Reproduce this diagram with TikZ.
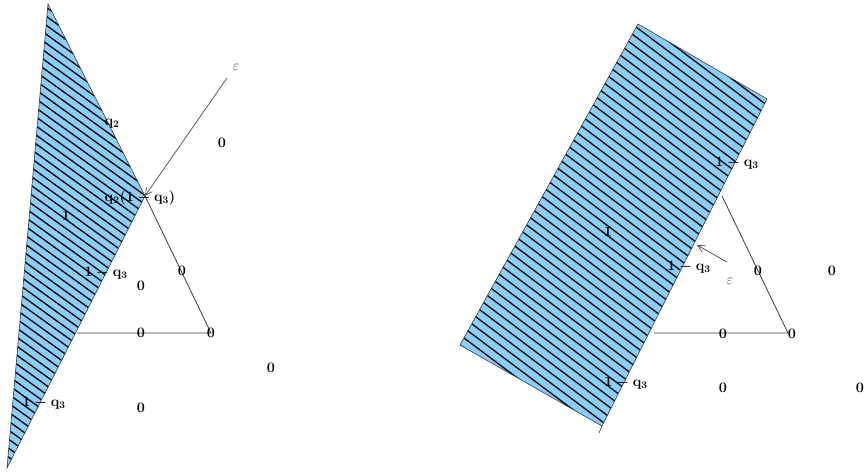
\documentclass[tikz,border=0pt]{standalone}
\usetikzlibrary{arrows.meta}
\definecolor{hatchblue}{RGB}{140,206,250}
\definecolor{edgegray}{RGB}{60,60,60}
\definecolor{epsgray}{RGB}{75,75,75}
\tikzset{
  lab/.style={font=\fontsize{14}{16}\selectfont\boldmath, inner sep=0pt},
  epslab/.style={font=\fontsize{14}{16}\selectfont, text=epsgray, inner sep=0pt},
  edge/.style={draw=edgegray, line width=0.6pt},
  tri/.style={draw=edgegray, line width=0.8pt},
  epsarrow/.style={draw=epsgray, line width=0.7pt, -{Straight Barb[length=7pt,width=7pt]}},
  hatch/.style={line width=1.3pt, black}
}
\begin{document}
\begin{tikzpicture}[x=1pt,y=-1pt]
\useasboundingbox (0,0) rectangle (864,473);

% ---------- left figure ----------
\coordinate (LA) at (48,4);
\coordinate (LV) at (145,196);
\coordinate (LT) at (7,468);
\coordinate (LB) at (211,333);
\coordinate (LC) at (77,333);

\draw[tri] (LV) -- (LB) -- (LC);

\fill[hatchblue] (LA) -- (LV) -- (LT) -- cycle;
\begin{scope}
  \clip (LA) -- (LV) -- (LT) -- cycle;
  \foreach \y in {-800,-791,...,1000}
    \draw[hatch] (-400,\y) -- ++(1000,720);
\end{scope}
\draw[edge] (LA) -- (LV) -- (LT) -- cycle;

\node[lab] (lq2) at (112,124) {$\mathbf{q_2}$};
\node[lab] (lz1) at (222,143) {$\mathbf{0}$};
\node[lab] (lq2q3) at (140,198) {$\mathbf{q_2(1-q_3)}$};
\node[lab] (lone) at (66,216) {$\mathbf{1}$};
\node[lab] (lq3a) at (106,273) {$\mathbf{1-q_3}$};
\node[lab] (lz2) at (182,271) {$\mathbf{0}$};
\node[lab] (lz3) at (141,286) {$\mathbf{0}$};
\node[lab] (lz4) at (141,333) {$\mathbf{0}$};
\node[lab] (lz5) at (211,333) {$\mathbf{0}$};
\node[lab] (lz6) at (271,368) {$\mathbf{0}$};
\node[lab] (lz7) at (141,408) {$\mathbf{0}$};
\node[lab] (lq3b) at (44,403) {$\mathbf{1-q_3}$};

\node[epslab] (leps) at (236,67) {$\varepsilon$};
\coordinate (lepsstart) at (227,78);
\draw[epsarrow] (lepsstart) -- (LV);

% ---------- right figure ----------
\coordinate (RA) at (638,24);
\coordinate (RB) at (767,99);
\coordinate (RC) at (602,426);
\coordinate (RD) at (460,345);
\coordinate (RE) at (599,433);
\coordinate (RV) at (722,196);
\coordinate (RTB) at (788,333);
\coordinate (RTC) at (654,333);

\draw[tri] (RV) -- (RTB) -- (RTC);

\fill[hatchblue] (RA) -- (RB) -- (RC) -- (RD) -- cycle;
\begin{scope}
  \clip (RA) -- (RB) -- (RC) -- (RD) -- cycle;
  \foreach \y in {-800,-790,...,1000}
    \draw[hatch] (200,\y) -- ++(1000,750);
\end{scope}
\draw[edge] (RA) -- (RB) -- (RC) -- (RD) -- cycle;
\draw[edge] (RC) -- (RE);

\node[lab] (rq3a) at (737,163) {$\mathbf{1-q_3}$};
\node[lab] (rone) at (608,232) {$\mathbf{1}$};
\node[lab] (rq3b) at (689,267) {$\mathbf{1-q_3}$};
\node[lab] (rz1) at (758,271) {$\mathbf{0}$};
\node[lab] (rz2) at (832,271) {$\mathbf{0}$};
\node[lab] (rz3) at (723,334) {$\mathbf{0}$};
\node[lab] (rz4) at (792,334) {$\mathbf{0}$};
\node[lab] (rz5) at (723,388) {$\mathbf{0}$};
\node[lab] (rz6) at (860,388) {$\mathbf{0}$};
\node[lab] (rq3c) at (626,383) {$\mathbf{1-q_3}$};

\node[epslab] (reps) at (730,281) {$\varepsilon$};
\coordinate (repsstart) at (727,262);
\coordinate (repsend) at (697,245);
\draw[epsarrow] (repsstart) -- (repsend);
\end{tikzpicture}
\end{document}
